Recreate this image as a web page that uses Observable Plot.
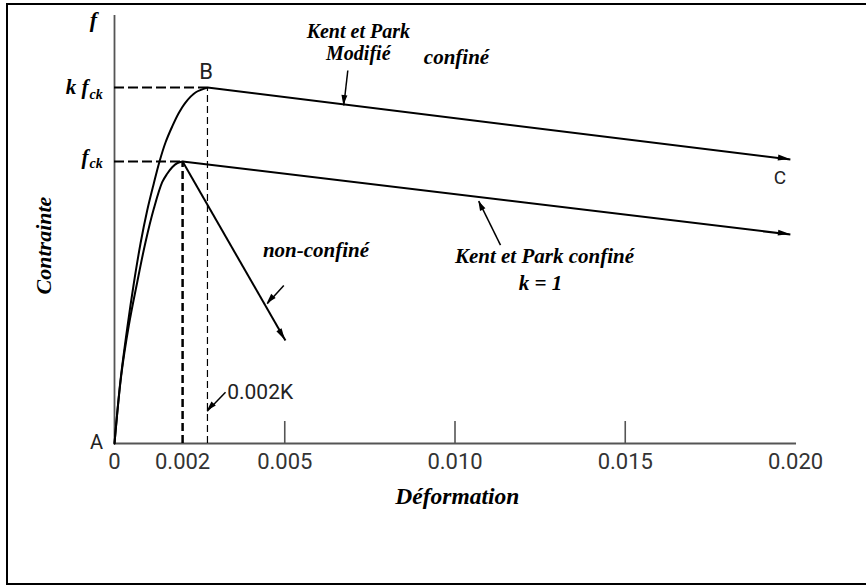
<!DOCTYPE html>
<html><head><meta charset="utf-8">
<script src="https://cdn.jsdelivr.net/npm/d3@7"></script>
<script src="https://cdn.jsdelivr.net/npm/@observablehq/plot@0.6"></script>
<style>
html,body{margin:0;padding:0;background:#fff;overflow:hidden;}
#wrap{position:relative;width:866px;height:586px;overflow:hidden;}
#frame{position:absolute;left:6px;top:3px;width:880px;height:582px;border:2.5px solid #000;box-sizing:border-box;pointer-events:none;}
</style></head><body><div id="wrap"><div id="chart"></div><div id="frame"></div></div>
<script>
// ---- data (strain, normalised stress f/fck) ----
const strainUnconfAsc = [0, 0.000197, 0.00042, 0.000667, 0.00091, 0.001154, 0.001401, 0.001542, 0.001695, 0.00185, 0.002];
const stressUnconfAsc = [0, 0.2411, 0.4184, 0.572, 0.7138, 0.8323, 0.9266, 0.9557, 0.9798, 0.9947, 1.0];
const strainUnconfDesc = [0.002, 0.00502];
const stressUnconfDesc = [1.0, 0.365];
const strainModAsc = [0, 0.000176, 0.000373, 0.000567, 0.000764, 0.00096, 0.001154, 0.001322, 0.001498, 0.001695, 0.00188, 0.002085, 0.002379, 0.00273];
const stressModAsc = [0, 0.2234, 0.4078, 0.5674, 0.7092, 0.8262, 0.922, 1.0, 1.0674, 1.1241, 1.1702, 1.2092, 1.2447, 1.262];
const strainModDesc = [0.00273, 0.01985];
const stressModDesc = [1.262, 1.007];
const strainKPDesc = [0.002, 0.01985];
const stressKPDesc = [1.0, 0.741];
const epsPeakUnconf = 0.002;
const epsPeakConf = 0.00273;
const fckLevel = 1.0;
const kfckLevel = 1.262;

const xTicks = [0, 0.002, 0.005, 0.010, 0.015, 0.020];
const xTickLabels = ["0", "0.002", "0.005", "0.010", "0.015", "0.020"];
const tickMarks = [0.005, 0.010, 0.015];

const serifLabels = ["confiné", "non-confiné", "Kent et Park confiné", "k = 1"];
const serifX = [0.010044, 0.005918, 0.012628, 0.012511];
const serifY = [1.3475, 0.6613, 0.640, 0.5426];
const modLabel = "Kent et Park\nModifié";
const modX = 0.00716;
const modY = 1.3599;

const pointLabels = ["A", "B", "C"];
const pointX = [-0.000529, 0.002687, 0.019545];
const pointY = [0.0035, 1.3191, 0.9433];
const pointSize = [20, 22, 19];

const annX1 = [0.006852, 0.004972, 0.011336, 0.00326];
const annY1 = [1.3227, 0.5603, 0.7032, 0.1819];
const annX2 = [0.006734, 0.004485, 0.010699, 0.002722];
const annY2 = [1.1986, 0.4954, 0.8592, 0.1145];

const descX1 = [strainUnconfDesc[0], strainModDesc[0], strainKPDesc[0]];
const descY1 = [stressUnconfDesc[0], stressModDesc[0], stressKPDesc[0]];
const descX2 = [strainUnconfDesc[1], strainModDesc[1], strainKPDesc[1]];
const descY2 = [stressUnconfDesc[1], stressModDesc[1], stressKPDesc[1]];

const pts = (xs, ys) => xs.map((x, i) => ({x, y: ys[i]}));
const serif = "Liberation Serif, Times New Roman, serif";

const svg = Plot.plot({
  width: 866, height: 586,
  marginLeft: 114, marginRight: 71, marginTop: 20, marginBottom: 143,
  x: {domain: [0, 0.02], axis: null},
  y: {domain: [0, 1.5], axis: null},
  style: {background: "transparent", overflow: "visible", fontFamily: "Roboto"},
  marks: [
    // axes
    Plot.ruleX([0], {y1: 0, y2: 1.518, stroke: "#555", strokeWidth: 1.8}),
    Plot.ruleY([0], {x1: 0, x2: 0.02003, stroke: "#555", strokeWidth: 1.8}),
    Plot.ruleX(tickMarks, {y1: 0, y2: 0.078, stroke: "#555", strokeWidth: 1.6}),
    Plot.text(xTickLabels, {x: (d, i) => xTicks[i], text: d => d, frameAnchor: "bottom", lineAnchor: "top", dy: 10, fontSize: 22, fill: "#333", fontFamily: "Roboto", ariaLabel: "ticklabel"}),
    // dashed guides
    Plot.ruleY([fckLevel], {x1: 0, x2: epsPeakUnconf, stroke: "#000", strokeWidth: 2, strokeDasharray: "10,4"}),
    Plot.ruleY([kfckLevel], {x1: 0, x2: epsPeakConf, stroke: "#000", strokeWidth: 2, strokeDasharray: "10,4"}),
    Plot.ruleX([epsPeakUnconf], {y1: 0, y2: fckLevel, stroke: "#000", strokeWidth: 2.5, strokeDasharray: "8,4"}),
    Plot.ruleX([epsPeakConf], {y1: 0, y2: kfckLevel, stroke: "#000", strokeWidth: 1.2, strokeDasharray: "7,4"}),
    // curves
    Plot.line(pts(strainUnconfAsc, stressUnconfAsc), {x: "x", y: "y", curve: "catmull-rom", stroke: "#000", strokeWidth: 2}),
    Plot.line(pts(strainModAsc, stressModAsc), {x: "x", y: "y", curve: "catmull-rom", stroke: "#000", strokeWidth: 2}),
    Plot.link(descX1.map((d, i) => i), {x1: i => descX1[i], y1: i => descY1[i], x2: i => descX2[i], y2: i => descY2[i], stroke: "#000", strokeWidth: 2}),
    // annotation arrows
    Plot.link(annX1.map((d, i) => i), {x1: i => annX1[i], y1: i => annY1[i], x2: i => annX2[i], y2: i => annY2[i], stroke: "#000", strokeWidth: 1.5}),
    // labels
    Plot.text([modLabel], {x: [modX], y: [modY], text: d => d, lineAnchor: "bottom", lineHeight: 1.12, textAnchor: "middle", fontFamily: serif, fontWeight: "bold", fontStyle: "italic", fontSize: 20, fill: "#000"}),
    Plot.text(serifLabels, {x: (d, i) => serifX[i], y: (d, i) => serifY[i], text: d => d, lineAnchor: "bottom", textAnchor: "middle", fontFamily: serif, fontWeight: "bold", fontStyle: "italic", fontSize: 21, fill: "#000"}),
    Plot.text(pointLabels, {x: (d, i) => pointX[i], y: (d, i) => pointY[i], text: d => d, fontSize: (d, i) => pointSize[i], fill: "#222", fontFamily: "Roboto"}),
    Plot.text(["0.002K"], {x: [0.00331], y: [0.1819], text: d => d, textAnchor: "start", fontSize: 21, fill: "#222", fontFamily: "Roboto", ariaLabel: "klabel"}),
    Plot.text(["f"], {x: [-0.000617], y: [1.4787], text: d => d, lineAnchor: "bottom", fontFamily: serif, fontWeight: "bold", fontStyle: "italic", fontSize: 22}),
    Plot.text(["k f", "f"], {x: [-0.000764, -0.000764], y: [1.2376, 0.9894], text: d => d, lineAnchor: "bottom", textAnchor: "end", fontFamily: serif, fontWeight: "bold", fontStyle: "italic", fontSize: 21}),
    Plot.text(["ck", "ck"], {x: [-0.000734, -0.000734], y: [1.2234, 0.9752], text: d => d, lineAnchor: "bottom", textAnchor: "start", fontFamily: serif, fontWeight: "bold", fontStyle: "italic", fontSize: 14}),
    Plot.text(["Contrainte"], {x: [-0.00207], y: [0.702], text: d => d, rotate: -90, fontFamily: serif, fontWeight: "bold", fontStyle: "italic", fontSize: 22}),
    Plot.text(["Déformation"], {x: [0.01007], y: [-0.2163], text: d => d, lineAnchor: "bottom", fontFamily: serif, fontWeight: "bold", fontStyle: "italic", fontSize: 23.5})
  ]
});

// filled arrowheads positioned with the plot's own scales
const s = d3.select(svg);
const sx = svg.scale("x"), sy = svg.scale("y");
const X = v => sx.apply(v), Y = v => sy.apply(v);
function head(x1, y1, x2, y2, len, wid) {
  const ax = X(x1), ay = Y(y1), bx = X(x2), by = Y(y2);
  const dx = bx - ax, dy = by - ay, n = Math.hypot(dx, dy);
  const ux = dx / n, uy = dy / n, px = -uy, py = ux;
  const cx = bx - ux * len, cy = by - uy * len;
  const d = `M${bx},${by}L${cx + px * wid / 2},${cy + py * wid / 2}L${cx - px * wid / 2},${cy - py * wid / 2}Z`;
  s.append("path").attr("d", d).attr("fill", "#000");
}
descX1.forEach((d, i) => head(descX1[i], descY1[i], descX2[i], descY2[i], 12, 6));
annX1.forEach((d, i) => head(annX1[i], annY1[i], annX2[i], annY2[i], 10, 6));
s.selectAll('g[aria-label="ticklabel"] text').style("letter-spacing", "0.6px");
s.selectAll('g[aria-label="klabel"] text').style("letter-spacing", "1px");
document.getElementById("chart").appendChild(svg);
</script>
</body></html>
